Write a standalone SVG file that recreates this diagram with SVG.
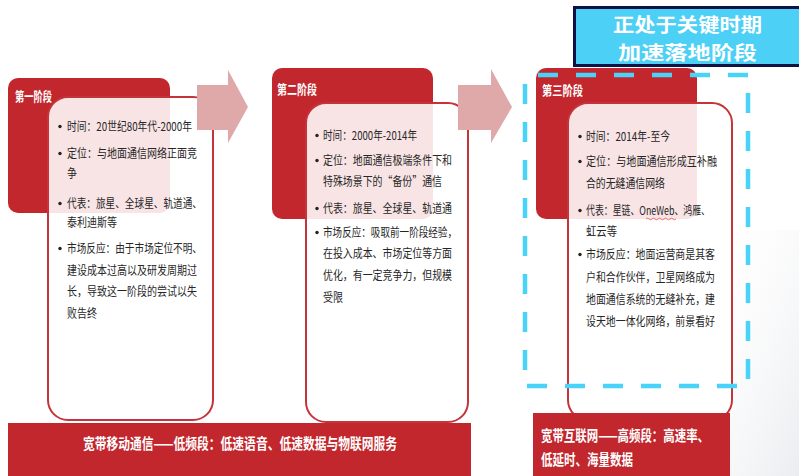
<svg xmlns="http://www.w3.org/2000/svg" width="799" height="476" viewBox="0 0 799 476">
<defs>
<style>
.tab{fill:#c1272d}
.box{fill:#fff;fill-opacity:0.88;stroke:#c4343a;stroke-width:2}
.t{font-family:"Noto Sans CJK SC","Noto Sans CJK JP",sans-serif;font-size:12px;fill:#262626}
.lab{font-family:"Noto Sans CJK SC","Noto Sans CJK JP",sans-serif;font-size:13px;font-weight:bold;fill:#fff}
.bart{font-family:"Noto Sans CJK SC","Noto Sans CJK JP",sans-serif;font-size:15px;font-weight:bold;fill:#fff}
.ct{font-family:"Noto Sans CJK SC","Noto Sans CJK JP",sans-serif;font-size:19px;font-weight:bold;fill:#fff}
.arrow{fill:#dfa9a9}
.dot{fill:#222}
</style>
<linearGradient id="bg" x1="0" y1="0" x2="1" y2="1">
<stop offset="0" stop-color="#ffffff" stop-opacity="0"/>
<stop offset="1" stop-color="#e6e8ec" stop-opacity="0.8"/>
</linearGradient>
</defs>
<rect width="799" height="476" fill="#fff"/>
<rect x="700" y="230" width="99" height="246" fill="url(#bg)"/>

<g id="stage1">
<rect class="tab" x="8" y="78" width="162" height="135" rx="10"/>
<text class="lab" x="15" y="101" textLength="37" lengthAdjust="spacingAndGlyphs">第一阶段</text>
<rect class="box" x="48" y="97" width="165" height="323" rx="20"/>
<g class="t">
<circle class="dot" cx="60" cy="126.5" r="1.7"/>
<text x="67" y="131" textLength="125" lengthAdjust="spacingAndGlyphs">时间：20世纪80年代-2000年</text>
<circle class="dot" cx="60" cy="153.5" r="1.7"/>
<text x="67" y="158" textLength="130" lengthAdjust="spacingAndGlyphs">定位：与地面通信网络正面竞</text>
<text x="67" y="178" textLength="10" lengthAdjust="spacingAndGlyphs">争</text>
<circle class="dot" cx="60" cy="203.5" r="1.7"/>
<text x="67" y="208" textLength="135" lengthAdjust="spacingAndGlyphs">代表：旅星、全球星、轨道通、</text>
<text x="67" y="227" textLength="50" lengthAdjust="spacingAndGlyphs">泰利迪斯等</text>
<circle class="dot" cx="60" cy="248.5" r="1.7"/>
<text x="67" y="253" textLength="135" lengthAdjust="spacingAndGlyphs">市场反应：由于市场定位不明、</text>
<text x="67" y="275" textLength="130" lengthAdjust="spacingAndGlyphs">建设成本过高以及研发周期过</text>
<text x="67" y="296" textLength="130" lengthAdjust="spacingAndGlyphs">长，导致这一阶段的尝试以失</text>
<text x="67" y="318" textLength="30" lengthAdjust="spacingAndGlyphs">败告终</text>
</g>
</g>

<g id="stage2">
<rect class="tab" x="272" y="68" width="161" height="151" rx="10"/>
<text class="lab" x="277" y="94" textLength="40" lengthAdjust="spacingAndGlyphs">第二阶段</text>
<rect class="box" x="306" y="103" width="162" height="319" rx="20"/>
<g class="t">
<circle class="dot" cx="317" cy="135.5" r="1.7"/>
<text x="323" y="140" textLength="94" lengthAdjust="spacingAndGlyphs">时间：2000年-2014年</text>
<circle class="dot" cx="317" cy="160.5" r="1.7"/>
<text x="323" y="165" textLength="129" lengthAdjust="spacingAndGlyphs">定位：地面通信极端条件下和</text>
<text x="323" y="186" textLength="119" lengthAdjust="spacingAndGlyphs">特殊场景下的“备份”通信</text>
<circle class="dot" cx="317" cy="208.5" r="1.7"/>
<text x="323" y="213" textLength="129" lengthAdjust="spacingAndGlyphs">代表：旅星、全球星、轨道通</text>
<circle class="dot" cx="317" cy="232.5" r="1.7"/>
<text x="323" y="237" textLength="134" lengthAdjust="spacingAndGlyphs">市场反应：吸取前一阶段经验，</text>
<text x="323" y="258" textLength="129" lengthAdjust="spacingAndGlyphs">在投入成本、市场定位等方面</text>
<text x="323" y="280" textLength="129" lengthAdjust="spacingAndGlyphs">优化，有一定竞争力，但规模</text>
<text x="323" y="302" textLength="20" lengthAdjust="spacingAndGlyphs">受限</text>
</g>
</g>

<g id="stage3">
<rect class="tab" x="536" y="68" width="161" height="151" rx="10"/>
<text class="lab" x="542" y="95" textLength="41" lengthAdjust="spacingAndGlyphs">第三阶段</text>
<rect class="box" x="568" y="103" width="164" height="317" rx="20"/>
<g class="t">
<circle class="dot" cx="580" cy="136.5" r="1.7"/>
<text x="586" y="141" textLength="84" lengthAdjust="spacingAndGlyphs">时间：2014年-至今</text>
<circle class="dot" cx="580" cy="161.5" r="1.7"/>
<text x="586" y="166" textLength="131" lengthAdjust="spacingAndGlyphs">定位：与地面通信形成互补融</text>
<text x="586" y="188" textLength="79" lengthAdjust="spacingAndGlyphs">合的无缝通信网络</text>
<circle class="dot" cx="580" cy="210.5" r="1.7"/>
<text x="586" y="215" textLength="124" lengthAdjust="spacingAndGlyphs">代表：星链、OneWeb、鸿雁、</text>
<text x="586" y="236" textLength="31" lengthAdjust="spacingAndGlyphs">虹云等</text>
<circle class="dot" cx="580" cy="254.5" r="1.7"/>
<text x="586" y="259" textLength="129" lengthAdjust="spacingAndGlyphs">市场反应：地面运营商是其客</text>
<text x="586" y="282" textLength="129" lengthAdjust="spacingAndGlyphs">户和合作伙伴，卫星网络成为</text>
<text x="586" y="304" textLength="129" lengthAdjust="spacingAndGlyphs">地面通信系统的无缝补充，建</text>
<text x="586" y="326" textLength="129" lengthAdjust="spacingAndGlyphs">设天地一体化网络，前景看好</text>
</g>
<path d="M646 219 q1.5 -1.5 3 0 t3 0 t3 0 t3 0 t3 0 t3 0 t3 0 t3 0 t3 0 t3 0" fill="none" stroke="#e04848" stroke-width="0.8"/>
</g>

<g id="connectors">
<polygon class="arrow" points="197,85 228,85 228,70 248,107 228,143 228,130 197,130"/>
<polygon class="arrow" points="458,85 491,85 491,69 512,107 491,143 491,130 458,130"/>
</g>

<g id="bar1">
<rect class="tab" x="8" y="423" width="463" height="53"/>
<text class="bart" x="83" y="449" textLength="314" lengthAdjust="spacingAndGlyphs">宽带移动通信——低频段：低速语音、低速数据与物联网服务</text>
</g>

<g id="bar3">
<rect class="tab" x="533" y="413" width="197" height="63"/>
<text class="bart"><tspan x="541" y="441" textLength="168" lengthAdjust="spacingAndGlyphs">宽带互联网——高频段：高速率、</tspan><tspan x="541" y="465" textLength="92" lengthAdjust="spacingAndGlyphs">低延时、海量数据</tspan></text>
</g>

<g id="highlight">
<rect x="525" y="75" width="223" height="311" fill="none" stroke="#4ad3f8" stroke-width="4.5" stroke-dasharray="20 18" stroke-dashoffset="25"/>
</g>

<g id="callout">
<rect x="574.5" y="7.5" width="240" height="58" fill="#4dd0f6" stroke="#0d1445" stroke-width="3"/>
<text class="ct" x="613" y="32" textLength="149" lengthAdjust="spacingAndGlyphs">正处于关键时期</text>
<text class="ct" x="618" y="60" textLength="139" lengthAdjust="spacingAndGlyphs">加速落地阶段</text>
</g>
</svg>
